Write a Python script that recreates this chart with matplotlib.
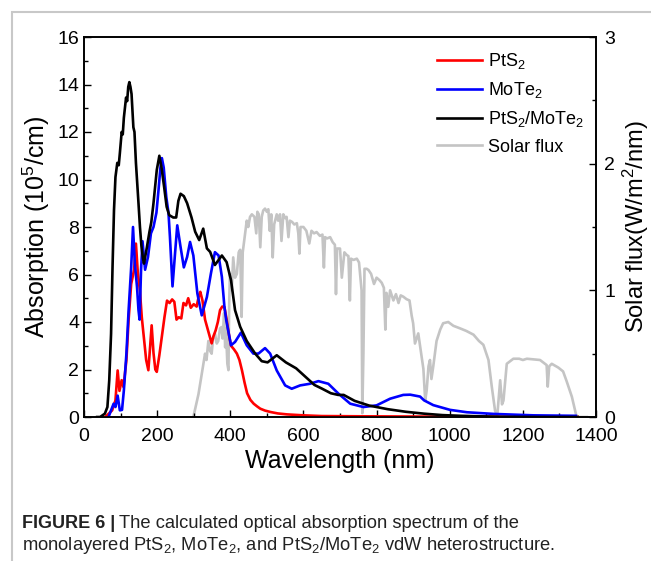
import matplotlib
matplotlib.use('Agg')
import matplotlib.pyplot as plt
from matplotlib.ticker import MultipleLocator
from matplotlib.patches import Rectangle

plt.rcParams['font.family'] = ['Liberation Sans', 'DejaVu Sans']
plt.rcParams['mathtext.default'] = 'regular'

# PtS2/MoTe2 heterostructure (black)
bk_wl = [36, 44, 57, 64, 69, 74, 78, 82, 86, 91, 95, 98, 103, 106, 109, 115, 118, 121, 124,
         127, 130, 135, 138, 142, 149, 153, 157, 161, 164, 172, 179, 184, 190, 199, 206, 212,
         219, 226, 233, 244, 252, 258, 264, 273, 282, 294, 304, 315, 326, 336, 345, 358, 377,
         390, 402, 413, 427, 445, 468, 486, 502, 527, 552, 580, 605, 630, 650, 675, 695, 710,
         740, 780, 830, 880, 930, 980, 1030, 1080, 1140, 1250, 1350]
bk_ab = [0, 0, 0.14, 0.42, 1.54, 3.5, 6.3, 8.7, 10.1, 10.7, 10.6, 11.1, 12.0, 11.9, 12.6,
         13.45, 13.3, 13.9, 14.1, 13.9, 13.6, 12.2, 12.0, 10.7, 9.0, 8.0, 7.2, 6.7, 6.46, 7.15,
         7.8, 8.2, 9.0, 10.4, 11.0, 10.5, 9.7, 8.85, 8.5, 8.4, 8.4, 9.1, 9.4, 9.3, 9.0, 8.4,
         7.8, 7.45, 7.93, 7.1, 6.95, 6.4, 6.8, 6.52, 5.76, 4.5, 3.8, 3.2, 2.67, 2.35, 2.3, 2.6,
         2.3, 2.05, 1.7, 1.35, 1.2, 1.0, 0.93, 0.93, 0.68, 0.48, 0.33, 0.22, 0.14, 0.08, 0.05,
         0.03, 0.01, 0, 0]

# PtS2 (red)
rd_wl = [58, 77, 86, 92, 97, 103, 108, 116, 122, 129, 137, 142, 147, 153, 158, 164, 170, 176,
         181, 185, 190, 195, 199, 206, 213, 220, 227, 234, 241, 247, 253, 259, 266, 272, 279,
         285, 292, 300, 308, 314, 318, 324, 331, 340, 349, 354, 360, 366, 372, 378, 384, 390,
         396, 402, 410, 418, 425, 432, 439, 446, 455, 464, 473, 482, 495, 510, 530, 555, 600,
         650, 750, 900, 1100, 1350]
rd_ab = [0, 0.28, 0.7, 1.96, 1.1, 1.55, 1.26, 2.4, 4.1, 5.6, 6.2, 7.3, 6.1, 5.3, 4.2, 3.3, 2.4,
         1.97, 3.0, 3.86, 2.7, 2.0, 1.9, 2.6, 3.4, 4.2, 4.9, 4.8, 4.95, 4.85, 4.1, 4.2, 4.15, 4.8,
         4.7, 5.0, 4.6, 4.75, 4.65, 5.1, 5.27, 4.9, 4.1, 3.6, 3.1, 3.4, 3.65, 4.0, 4.5, 4.65,
         4.63, 4.1, 3.5, 3.0, 2.85, 2.67, 2.4, 1.96, 1.45, 1.0, 0.72, 0.56, 0.45, 0.35, 0.27,
         0.21, 0.15, 0.11, 0.07, 0.04, 0.03, 0.02, 0.01, 0]

# MoTe2 (blue)
bl_wl = [67, 81, 86, 92, 98, 104, 109, 116, 122, 129, 134, 139, 145, 149, 152, 156, 160, 167,
         175, 183, 190, 198, 204, 209, 213, 218, 225, 231, 235, 242, 249, 255, 264, 273, 282,
         290, 299, 310, 322, 336, 347, 358, 368, 377, 384, 389, 396, 402, 413, 429, 445, 463,
         477, 495, 509, 527, 550, 568, 591, 618, 641, 668, 696, 728, 764, 800, 837, 873, 892,
         919, 930, 955, 1001, 1047, 1120, 1229, 1345]
bl_ab = [0, 0.56, 0.42, 0.9, 0.28, 0.3, 1.12, 2.67, 4.5, 6.3, 8.0, 6.46, 5.47, 4.5, 4.1, 6.2,
         7.4, 6.2, 6.74, 7.73, 8.0, 8.6, 9.6, 10.5, 10.9, 10.5, 9.26, 8.6, 7.58, 5.5, 6.9, 8.07,
         7.16, 6.3, 6.74, 7.37, 6.8, 5.2, 4.28, 5.05, 6.04, 6.94, 6.8, 5.9, 4.63, 4.07, 3.5,
         3.02, 3.16, 3.55, 3.02, 2.67, 2.67, 2.9, 2.67, 1.96, 1.33, 1.19, 1.33, 1.4, 1.51, 1.4,
         0.98, 0.56, 0.42, 0.49, 0.77, 0.93, 0.94, 0.86, 0.7, 0.5, 0.3, 0.2, 0.13, 0.07, 0.05]

# Solar flux (gray, right axis)
sf_wl = [299, 313, 322, 331, 335, 340, 345, 349, 353, 358, 363, 367, 372, 376, 379, 383, 386,
         388, 392, 395, 397, 399, 404, 408, 413, 418, 423, 427, 431, 434, 438, 445, 449, 454,
         459, 466, 471, 474, 478, 482, 486, 490, 495, 500, 504, 508, 512, 516, 520, 527, 531,
         536, 540, 545, 550, 554, 559, 563, 569, 575, 582, 586, 589, 592, 600, 608, 616, 622,
         629, 636, 645, 652, 656, 659, 665, 673, 680, 686, 689, 692, 700, 705, 712, 718, 723,
         727, 730, 737, 746, 752, 759, 761, 764, 767, 773, 778, 785, 793, 800, 808, 814, 820,
         824, 827, 832, 837, 846, 853, 860, 866, 873, 882, 890, 896, 900, 905, 914, 922, 928,
         933, 937, 942, 946, 950, 955, 964, 974, 982, 996, 1010, 1028, 1045, 1065, 1080, 1092,
         1106, 1115, 1124, 1130, 1138, 1143, 1147, 1156, 1174, 1190, 1200, 1211, 1230, 1247,
         1265, 1268, 1272, 1279, 1297, 1310, 1320, 1334, 1347, 1375]
sf_val = [0, 0.18, 0.34, 0.5, 0.45, 0.6, 0.52, 0.5, 0.62, 0.66, 0.58, 0.6, 0.7, 0.71, 0.62,
          0.82, 0.55, 0.7, 0.42, 0.37, 0.9, 1.13, 1.0, 1.26, 1.1, 1.13, 1.3, 1.32, 0.79, 1.3,
          1.39, 1.55, 1.5, 1.58, 1.6, 1.58, 1.45, 1.62, 1.6, 1.34, 1.58, 1.63, 1.645, 1.62,
          1.64, 1.47, 1.6, 1.26, 1.52, 1.6, 1.55, 1.6, 1.39, 1.6, 1.57, 1.58, 1.42, 1.55, 1.54,
          1.52, 1.53, 1.45, 1.29, 1.5, 1.5, 1.47, 1.37, 1.47, 1.45, 1.46, 1.43, 1.44, 1.18, 1.42,
          1.41, 1.42, 1.38, 1.36, 0.97, 1.33, 1.33, 1.1, 1.3, 1.28, 1.27, 0.92, 1.25, 1.24,
          1.25, 1.22, 1.0, 0.03, 0.5, 1.17, 1.17, 1.16, 1.13, 1.05, 1.1, 1.08, 1.06, 1.02, 0.69,
          0.98, 0.87, 1.0, 0.92, 0.97, 0.9, 0.96, 0.95, 0.93, 0.92, 0.8, 0.74, 0.58, 0.66, 0.5,
          0.38, 0.13, 0.21, 0.4, 0.45, 0.3, 0.4, 0.6, 0.69, 0.74, 0.75, 0.72, 0.7, 0.68, 0.65,
          0.6, 0.57, 0.45, 0.24, 0.05, 0.01, 0.29, 0.1, 0.13, 0.42, 0.46, 0.46, 0.45, 0.46,
          0.455, 0.45, 0.41, 0.24, 0.4, 0.42, 0.39, 0.36, 0.28, 0.16, 0.0, 0.0]

fig = plt.figure(figsize=(6.51, 5.61), dpi=100)

# light gray page frame
fig.patches.append(Rectangle((11.5 / 651, -0.05), 1.2, 1.05 - 12.5 / 561,
                             transform=fig.transFigure, fill=False,
                             edgecolor='#c8c8c8', lw=1.5))

ax = fig.add_axes([84 / 651, 1 - 417 / 561, 512 / 651, 380 / 561])
ax2 = ax.twinx()
ax.set_zorder(ax2.get_zorder() + 1)
ax.patch.set_visible(False)

lw = 1.9
h4, = ax2.plot(sf_wl, sf_val, color='#c4c4c4', lw=lw, label='Solar flux')
h1, = ax.plot(rd_wl, rd_ab, color='#ff0000', lw=lw, label='PtS$_2$')
h2, = ax.plot(bl_wl, bl_ab, color='#0000ff', lw=lw, label='MoTe$_2$')
h3, = ax.plot(bk_wl, bk_ab, color='black', lw=lw, label='PtS$_2$/MoTe$_2$')

ax.set_xlim(0, 1400)
ax.set_ylim(0, 16)
ax2.set_ylim(0, 3)
ax.xaxis.set_major_locator(MultipleLocator(200))
ax.xaxis.set_minor_locator(MultipleLocator(100))
ax.yaxis.set_major_locator(MultipleLocator(2))
ax.yaxis.set_minor_locator(MultipleLocator(1))
ax2.yaxis.set_major_locator(MultipleLocator(1))
ax2.yaxis.set_minor_locator(MultipleLocator(0.5))

for a in (ax, ax2):
    a.tick_params(which='both', direction='in', labelsize=14, width=1)
    a.tick_params(which='major', length=5)
    a.tick_params(which='minor', length=3)
    for s in a.spines.values():
        s.set_linewidth(1.2)
ax.tick_params(top=False, right=False, which='both')
ax.tick_params(axis='x', pad=8)
ax2.tick_params(top=False, left=False, which='both')
ax2.tick_params(axis='y', pad=6)

ax.set_xlabel('Wavelength (nm)', fontsize=18, labelpad=3)
ax.set_ylabel('Absorption (10$^5$/cm)', fontsize=18, labelpad=4)
ax2.set_ylabel('Solar flux(W/m$^2$/nm)', fontsize=17, labelpad=4)

ax.legend(handles=[h1, h2, h3, h4], loc='upper left', bbox_to_anchor=(0.69, 0.962),
          frameon=False, fontsize=13, handlelength=2.5, handletextpad=0.3,
          labelspacing=0.5, borderpad=0, borderaxespad=0)

# caption
renderer = fig.canvas.get_renderer()
t1 = fig.text(22 / 651, 1 - 523 / 561, 'FIGURE 6 |', fontsize=13, weight='bold',
              va='center', color='#222222')
bb = t1.get_window_extent(renderer)
fig.text((bb.x1 + 4) / 651, 1 - 523 / 561,
         'The calculated optical absorption spectrum of the',
         fontsize=13.2, va='center', color='#222222')
fig.text(22 / 651, 1 - 546 / 561,
         'monolayered PtS$_2$, MoTe$_2$, and PtS$_2$/MoTe$_2$ vdW heterostructure.',
         fontsize=13.2, va='center', color='#222222')

fig.savefig('out.png', dpi=100)
